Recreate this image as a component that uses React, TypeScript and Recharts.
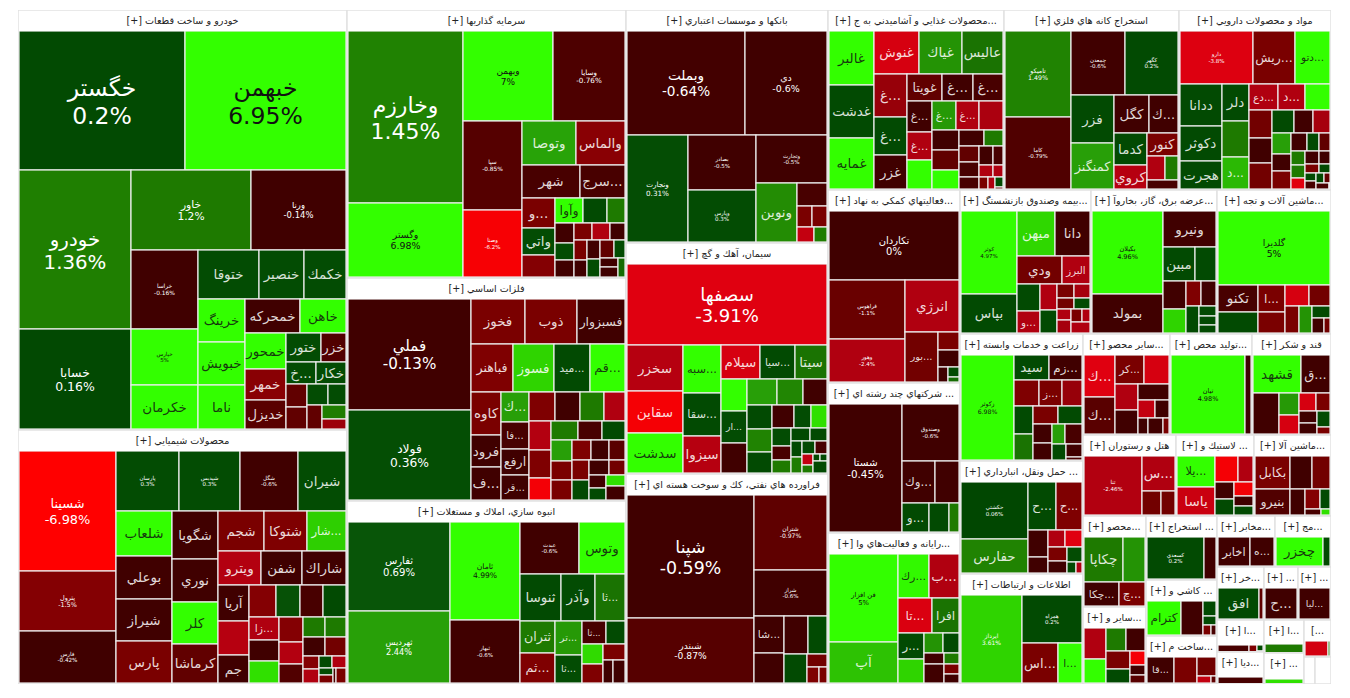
import React from 'react';
import { Treemap } from 'recharts';

const carNames = ['خگستر','خبهمن','خودرو','خسابا','خاور','ورنا','خراسا','خپارس','خكرمان','ختوقا','خنصير','خكمك','خرينگ','خبويش','ناما','خمحركه','خاهن','خمحور','خمهر','خديزل','ختور','خزر','...خ','خكار'];
const carSizes = [22935,22240,17649,11211,9500,7500,5214,3696,2900,2940,2205,2058,2024,2024,1978,1870,1564,1476,1271,1107,1015,725,660,660,484,462,440,374,357,330,132];
const carChanges = [0.2,6.95,1.36,0.16,1.2,-0.14,-0.16,5,5.5,0.3,0.3,0.3,5,5,5,-0.5,5,5,-1.6,-0.9,0.3,-0.8,0.3,0.3,-1,-1,0.3,0.3,-1,1.3,-2];

const chemNames = ['شسينا','پترول','فارس','پارسان','شپديس','شگل','شيران','شلعاب','بوعلي','شيراز','پارس','شگويا','نوري','كلر','كرماشا','شجم','شتوكا','...شار','ويترو','شفن','شاراك','آريا','','جم','','','','','...زا'];
const chemSizes = [11640,5820,5160,3790,3690,3500,2820,2500,2420,2340,2340,2230,1990,1940,1800,1822,1740,1574,1465,1395,1430,1106,1043,917,879,777,743,743,702,641,610,602,526,451,435,414,412,392,209,227,157,170,99,113,52,52];
const chemChanges = [-6.98,-1.5,-0.42,0.3,0.3,-0.6,0.3,5,-0.5,-0.6,-1.3,-0.6,-0.6,5,-1,-1.3,-1.4,3.5,-2.5,-0.6,-0.6,-0.6,-2.6,-0.6,-1.5,0.5,-0.7,0.2,-2.4,-0.6,4,-1.5,-2.5,-0.8,1.2,1.2,-0.6,-1.2,-1.5,-2.4,0.2,-2.4,0.3,-1.3,-0.7,-1.3];

const investNames = ['وخارزم','وگستر','وبهمن','وسايا','سپا','وصنا','وتوصا','والماس','شهر','...سرج','...و','واتي','','وآوا'];
const investSizes = [19800,8490,8100,6480,5250,3954,2380,2152,1900,1480,1000,890,687,705,600,470,384,322,300,300,300,280,260,232,243,220,243,209,170,170,62];
const investChanges = [1.45,6.98,7,-0.76,-0.85,-6.2,2.5,-1.6,-0.7,-0.7,-1.3,0.3,-1.5,5,0.2,1.2,-0.6,0.3,-0.6,-1.3,-2.4,-0.6,-1.3,-0.6,-0.6,0.3,-1,0.3,-0.6,-0.6,1];

const metalNames = ['فملي','فولاد','فخوز','ذوب','فسبزوار','فباهنر','فسوز','...ميد','...قم','كاوه','فرود','...ف','...ك','...فا','ارفع','...قر'];
const metalSizes = [13640,11160,2440,2360,2175,2010,1950,1730,1700,1300,970,940,850,770,720,656,746,715,684,653,629,606,536,506,464,464,444,400,400,377,355,333,340,340,300,250,220,200,200,150];
const metalChanges = [-0.13,0.36,-1.3,-1.3,-0.6,-1.4,3.6,0.2,5,-1.3,-0.6,-0.6,2.4,-0.7,-0.6,-0.6,-1.4,-0.5,1.2,-2.4,-2.5,-1.4,-5.9,1.2,-0.7,0.2,2.4,-1.3,-1.3,-1.4,-0.6,-0.9,-1.3,0.2,-0.6,-1.2,-0.6,0.2,4,-0.6];

const massNames = ['ثفارس','ثهرديس','ثامان','ثبهار','عبدت','وتوس','ثنوسا','وآذر','...ثا','ثتران','...ثم','...تر','...ثا','...ثا'];
const massSizes = [8989,7272,6762,4347,3009,2397,1886,1564,1426,1120,1015,918,756,552,414,420,399,357,231,210];
const massChanges = [0.69,2.44,4.99,-0.6,-0.6,5,0.2,0.3,1.1,1.2,-1.4,2.2,0.3,-0.7,0.2,3.8,-1.4,-1.3,-0.6,-0.6];

const bankNames = ['وبملت','دي','ونجارت','بصادر','وپارس','وتجارت','ونوين'];
const bankSizes = [12154,8343,6420,3685,3484,3384,2400,672,320,300,256,240];
const bankChanges = [-0.64,-0.6,0.31,-0.5,0.3,-0.5,1.8,-0.7,-1.3,-1.3,-3,1.3];

const cementNames = ['سصفها','سخزر','سقاين','سدشت','...سبه','...سقا','سيزوا','سيلام','...سيا','سيتا','','...ار'];
const cementSizes = [15600,2484,2268,2160,1776,1591,1369,1287,1155,1089,810,800,790,754,650,624,575,550,525,480,384,384,323,266,228,234,221,170,165,160,165,117,91,48,40,32];
const cementChanges = [-3.91,-2.6,-6,5,5,0.2,-2.6,-3.6,0.2,1.1,5,0.3,-0.6,2.4,1.6,-0.6,0.2,1.5,0.2,-0.6,0.3,4,0.3,-0.7,1.2,0.2,0.2,0.2,1.3,0.2,-0.7,-3,1.2,0.2,0.2,0.2];

const refineryNames = ['شپنا','شبندر','شتران','شراز','...شا'];
const refinerySizes = [15372,8190,5402,3285,1080,900,890,726,660,260,182,91];
const refineryChanges = [-0.59,-0.87,-0.97,-0.6,-0.6,-0.6,-0.6,0.2,0.2,-1.2,-1.4,-1.3];

const foodNames = ['غالبر','غدشت','غمايه','غنوش','غياك','عاليس','...غ','...غ','غزر','غويتا','...غ','...غ','...غ','...غ','','...غ','...غ'];
const foodSizes = [2332,2288,2200,1845,1763,1640,1344,1184,1120,910,806,780,744,672,650,675,648,621,520,510,468,375,315,300,280,260,255,170,165,121,98,84,80,60];
const foodChanges = [5,0.2,5,-3.6,2,1.1,-1.9,0.2,-0.6,-1,-0.6,-0.7,-0.6,-2.4,5,2.2,-2.4,-2.3,-0.6,-1,5,-0.6,1.2,-1,-0.7,-0.7,-0.6,-0.7,-2.4,-2.4,-1.3,-2.4,0.2,-1];

const miningNames = ['تاميكو','كاما','چمعدن','كگهر','فزر','كمنگنز','كگل','...ك','كدما','كروي','كنور'];
const miningSizes = [5440,4544,3348,3300,1974,1932,1295,1073,1023,759,690,408,312,240];
const miningChanges = [1.49,-0.79,-0.6,0.2,0.2,2.4,-0.6,-0.6,0.2,-2.6,-1.3,-2.4,1.2,-0.7];

const pharmaNames = ['دارو','...ريش','...دتو','ددانا','دكوثر','هجرت','دلر','','...د','...دع','...د'];
const pharmaSizes = [3600,2100,1700,1638,1365,1092,925,900,775,696,648,600,609,546,525,462,399,378,374,306,289,272,208,192,182,169,156,165,143,121,99,77,88,72,56,70,60,28,26];
const pharmaChanges = [-3.8,-1.3,5,0.2,0.2,0.2,0.2,1.2,3,-2.4,-2.4,5,-1.2,-0.6,-1.2,0.2,-0.6,-2.2,2.4,-0.6,-1.3,-0.6,0.2,-1,1.2,1.2,-4,-0.6,-0.6,-1.3,0.2,0.2,-0.7,0.2,-1,-0.7,1.2,-0.7,-1];

const supportNames = ['تكاردان','فراهوس','وهور','انرژي','...بور'];
const supportSizes = [8710,4366,3256,2754,1632,378,357,143,110,20];
const supportChanges = [0,-1.1,-2.4,-2.4,-1.2,-1.3,-0.6,-0.6,0.2,1];

const multiNames = ['شستا','وصندوق','...وك','','...و'];
const multiSizes = [9360,3249,1386,1008,783,570,300];
const multiChanges = [-0.45,-0.6,-0.6,-0.6,0.2,0.2,1.2];

const computerNames = ['فن افزار','آپ','...رك','...ب','...تا','افرا','...ر'];
const computerSizes = [5762,2613,1312,1230,1122,924,648,576,360,306,216,340,153,136,143,44];
const computerChanges = [5,3.2,4.8,-2.4,-3.7,1.1,0.2,3.6,2,0.2,-0.6,-0.6,1.2,-1.3,-0.6,-1.3];

const insuranceNames = ['كوثر','بپاس','ميهن','دانا','ودي','البرز','','...و'];
const insuranceSizes = [4536,2184,1677,1548,1242,783,598,506,425,391,238,224,187,180,153,176,135,112,105];
const insuranceChanges = [4.97,0.2,3.7,-0.6,-1.2,-2.4,0.2,-2.4,-2.4,0.2,-1.3,-2.2,-1.2,0.2,-2.4,-2.2,-1.3,-2.4,-2.4];

const powerNames = ['بكيلان','بمولد','ونيرو','مبين'];
const powerSizes = [5670,2730,1836,1056,660,616,528,360,350,336,162,154,126];
const powerChanges = [4.96,-0.6,-0.6,0.2,0.2,-0.6,3.6,-1.4,-0.6,0.2,0.2,0.2,0.2];

const machineNames = ['گلديرا','تكنو','','...ا'];
const machineSizes = [7810,1036,777,700,525,480,400,364,340,200,170,119];
const machineChanges = [5,-0.7,0.2,-1.3,-1.3,-3.6,-1.2,-1.3,2,0.2,-0.6,-1.2];

const farmNames = ['زكوثر','سيد','...زم','','...ز'];
const farmSizes = [5200,805,759,600,550,525,504,432,425,410,342,288,234,323,204,187,68];
const farmChanges = [6.98,0.2,-0.6,-1.4,-1.3,-1.9,0.2,1.1,-1.3,0.2,-0.6,-0.6,2.4,-0.7,0.2,-0.6,-0.7];

const transportNames = ['حكشتي','حفارس','...ح','...ح'];
const transportSizes = [3770,2210,1334,1196,532,323,289,272,255,240,220,98,84];
const transportChanges = [0.06,1.5,0.2,-1.4,-0.6,-0.6,-2.4,-3.9,-1.3,-0.6,0.3,0.2,-2.4];

const ictNames = ['ايرداز','همراه','...اس','...ا'];
const ictSizes = [5100,2760,1365,897];
const ictChanges = [3.61,0.2,-1.3,5];

const otherNames = ['...ك','...ك','...كر'];
const otherSizes = [1189,1015,754,650,550,506,437,276,228,144,220,96,36];
const otherChanges = [-3.9,-0.9,-1.3,-3.6,-2.4,-0.6,-0.6,-3,-0.6,-0.6,-0.6,-1.3,-0.7];

const productionNames = ['تيان'];
const productionSizes = [5548,456];
const productionChanges = [4.98,-0.6];

const sugarNames = ['قشهد','...ق'];
const sugarSizes = [1680,980,960,399,342,272,224,204,168,187,88,55];
const sugarChanges = [5,-0.6,-0.6,2.2,-3.6,-3.6,-1.3,-0.6,-0.6,0.2,-1.3,-1.3];

const hotelNames = ['تنا','...س'];
const hotelSizes = [3306,1122,432,312];
const hotelChanges = [-2.46,-2.4,-1.2,-1.2];

const rubberNames = ['...يلا','ياسا'];
const rubberSizes = [1110,1036,576,360,304,300,260,190,152];
const rubberChanges = [5,-3.2,-6,-2.4,-0.6,0.2,-5.8,-0.6,0.2];

const machineryNames = ['بكابل','بنيرو'];
const machinerySizes = [1122,850,704,576,364,285,209,90,66];
const machineryChanges = [-1.3,-0.8,-0.6,-1.2,-0.6,-1.5,0.2,-0.7,4];

const drinkNames = ['چكاپا','','...چكا','...چ'];
const drinkSizes = [1702,1012,816,600];
const drinkChanges = [1.2,2,-0.6,-1.3];

const otherBNames: string[] = [];
const otherBSizes = [609,504,418,400,391,299,196,140,70];
const otherBChanges = [-2.4,5,1.2,-0.6,-1.3,0.2,-6,-0.6,-0.9];

const extractNames = ['كسعدي'];
const extractSizes = [2296,492];
const extractChanges = [0.2,-0.6];

const tileNames = ['كترام'];
const tileSizes = [1122,714,182,112,80,40];
const tileChanges = [5,-0.6,0.2,0.2,-1.3,-0.7];

const buildNames = ['...قا'];
const buildSizes = [676,572,342,91,35];
const buildChanges = [-0.6,-1.3,-1.2,-3,-1];

const telecomNames = ['اخابر','...ه'];
const telecomSizes = [899,696];
const telecomChanges = [-0.6,-0.6];

const mixNames = ['چخزر'];
const mixSizes = [1363,203];
const mixChanges = [5,0.2];

const khNames = ['افق'];
const khSizes = [1131,116];
const khChanges = [0.2,-1];

const smallASizes = [270,72,30,24];
const smallAChanges = [-0.7,-1.4,0.2,-0.5];
const smallBSizes = [360,40];
const smallBChanges = [-3.5,1.2];

// labels that also print the percent under the name
const percentNames = new Set(['خگستر','خبهمن','خودرو','خسابا','خاور','ورنا','خراسا','خپارس','شسينا','پترول','فارس','پارسان','شپديس','شگل','وخارزم','وگستر','وبهمن','وسايا','سپا','وصنا','فملي','فولاد','ثفارس','ثهرديس','ثامان','ثبهار','عبدت','وبملت','دي','ونجارت','بصادر','وپارس','وتجارت','سصفها','شپنا','شبندر','شتران','شراز','تاميكو','كاما','چمعدن','كگهر','دارو','تكاردان','فراهوس','وهور','شستا','وصندوق','فن افزار','كوثر','بكيلان','گلديرا','زكوثر','حكشتي','ايرداز','همراه','تيان','تنا','كسعدي']);

const makeLeaves = (names: string[], sizes: number[], changes: number[]) =>
  sizes.map((size, i) => ({ name: names[i] ?? '', size, change: changes[i] }));

const sectors = [
  { name: 'خودرو و ساخت قطعات [+]', size: 137970, leaves: makeLeaves(carNames, carSizes, carChanges) },
  { name: 'محصولات شيميايي [+]', size: 83439, leaves: makeLeaves(chemNames, chemSizes, chemChanges) },
  { name: 'سرمايه گذاريها [+]', size: 74772, leaves: makeLeaves(investNames, investSizes, investChanges) },
  { name: 'فلزات اساسي [+]', size: 62217, leaves: makeLeaves(metalNames, metalSizes, metalChanges) },
  { name: 'انبوه سازي، املاك و مستغلات [+]', size: 51057, leaves: makeLeaves(massNames, massSizes, massChanges) },
  { name: 'بانكها و موسسات اعتباري [+]', size: 47066, leaves: makeLeaves(bankNames, bankSizes, bankChanges) },
  { name: 'سيمان، آهك و گچ [+]', size: 46662, leaves: makeLeaves(cementNames, cementSizes, cementChanges) },
  { name: 'فراورده هاي نفتي، كك و سوخت هسته اي [+]', size: 42420, leaves: makeLeaves(refineryNames, refinerySizes, refineryChanges) },
  { name: '...محصولات غذايي و آشاميدني به ج [+]', size: 31680, leaves: makeLeaves(foodNames, foodSizes, foodChanges) },
  { name: 'استخراج كانه هاي فلزي [+]', size: 31500, leaves: makeLeaves(miningNames, miningSizes, miningChanges) },
  { name: 'مواد و محصولات دارويي [+]', size: 27360, leaves: makeLeaves(pharmaNames, pharmaSizes, pharmaChanges) },
  { name: '...فعاليتهاي كمكي به نهاد [+]', size: 25476, leaves: makeLeaves(supportNames, supportSizes, supportChanges) },
  { name: '... شركتهاي چند رشته اي [+]', size: 19800, leaves: makeLeaves(multiNames, multiSizes, multiChanges) },
  { name: '...رايانه و فعاليت‌هاي وا [+]', size: 19930, leaves: makeLeaves(computerNames, computerSizes, computerChanges) },
  { name: '...بيمه وصندوق بازنشستگ [+]', size: 18900, leaves: makeLeaves(insuranceNames, insuranceSizes, insuranceChanges) },
  { name: '...عرضه برق، گاز، بخاروآ [+]', size: 18150, leaves: makeLeaves(powerNames, powerSizes, powerChanges) },
  { name: '...ماشين آلات و تجه [+]', size: 16146, leaves: makeLeaves(machineNames, machineSizes, machineChanges) },
  { name: 'زراعت و خدمات وابسته [+]', size: 15616, leaves: makeLeaves(farmNames, farmSizes, farmChanges) },
  { name: '... حمل ونقل، انبارداري [+]', size: 13908, leaves: makeLeaves(transportNames, transportSizes, transportChanges) },
  { name: 'اطلاعات و ارتباطات [+]', size: 13298, leaves: makeLeaves(ictNames, ictSizes, ictChanges) },
  { name: '...ساير محصو [+]', size: 8800, leaves: makeLeaves(otherNames, otherSizes, otherChanges) },
  { name: '...توليد محص [+]', size: 8300, leaves: makeLeaves(productionNames, productionSizes, productionChanges) },
  { name: 'قند و شكر [+]', size: 7900, leaves: makeLeaves(sugarNames, sugarSizes, sugarChanges) },
  { name: 'هتل و رستوران [+]', size: 7520, leaves: makeLeaves(hotelNames, hotelSizes, hotelChanges) },
  { name: '... لاستيك و [+]', size: 6320, leaves: makeLeaves(rubberNames, rubberSizes, rubberChanges) },
  { name: '...ماشين آلا [+]', size: 6160, leaves: makeLeaves(machineryNames, machinerySizes, machineryChanges) },
  { name: '...محصو [+]', size: 5704, leaves: makeLeaves(drinkNames, drinkSizes, drinkChanges) },
  { name: '...ساير و [+]', size: 4836, leaves: makeLeaves(otherBNames, otherBSizes, otherBChanges) },
  { name: '... استخراج [+]', size: 4550, leaves: makeLeaves(extractNames, extractSizes, extractChanges) },
  { name: '... كاشي و [+]', size: 3990, leaves: makeLeaves(tileNames, tileSizes, tileChanges) },
  { name: '...ساخت م [+]', size: 3430, leaves: makeLeaves(buildNames, buildSizes, buildChanges) },
  { name: '...مخابر [+]', size: 2950, leaves: makeLeaves(telecomNames, telecomSizes, telecomChanges) },
  { name: '...مج [+]', size: 2900, leaves: makeLeaves(mixNames, mixSizes, mixChanges) },
  { name: '...خر [+]', size: 2500, leaves: makeLeaves(khNames, khSizes, khChanges) },
  { name: '... [+]', size: 1800, leaves: makeLeaves(['...ح'], [100], [-0.6]) },
  { name: '... [+]', size: 1750, leaves: makeLeaves(['...ليا'], [100], [-0.6]) },
  { name: '...ا [+]', size: 1520, leaves: makeLeaves([], smallASizes, smallAChanges) },
  { name: '...ديا [+]', size: 1470, leaves: makeLeaves([], [100], [-0.7]) },
  { name: '...ا [+]', size: 1300, leaves: makeLeaves([], [100], [1.2]) },
  { name: '... [+]', size: 1270, leaves: makeLeaves([], [100], [4]) },
  { name: '...]', size: 1000, leaves: makeLeaves([], smallBSizes, smallBChanges) },
  { name: '', size: 300, leaves: [] },
  { name: '', size: 120, leaves: [] },
];

const FONT = '"DejaVu Sans", sans-serif';
const HEADER_HEIGHT = 20;

const negStops: [number, number[]][] = [[0, [64, 0, 0]], [0.6, [64, 0, 0]], [1.3, [122, 0, 0]], [2.4, [176, 0, 16]], [3.9, [224, 0, 16]], [7, [255, 0, 0]]];
const posStops: [number, number[]][] = [[0, [0, 70, 0]], [0.7, [8, 85, 8]], [1.2, [30, 122, 0]], [2.44, [40, 160, 8]], [3.61, [47, 212, 0]], [5, [51, 255, 0]], [7, [51, 255, 0]]];

const colorFor = (change: number) => {
  const stops = change > 0 ? posStops : negStops;
  const v = Math.abs(change);
  for (let i = 1; i < stops.length; i++) {
    if (v <= stops[i][0]) {
      const [a, ca] = stops[i - 1];
      const [b, cb] = stops[i];
      const t = (v - a) / (b - a);
      return `rgb(${ca.map((c, k) => Math.round(c + (cb[k] - c) * t)).join(',')})`;
    }
  }
  return `rgb(${stops[stops.length - 1][1].join(',')})`;
};

const renderLeaf = (props: any) => {
  const { depth, x, y, width, height, name, change } = props;
  if (depth !== 1 || width <= 0 || height <= 0) return null;
  const cx = x + width / 2;
  const cy = y + height / 2;
  const ink = change >= 3.8 ? '#111' : '#fff';
  const area = width * height;
  let label = null;
  if (name && percentNames.has(name)) {
    const size = Math.min(23.5, Math.max(5.5, area / 900));
    label = (
      <text textAnchor="middle" fill={ink} fontFamily={FONT} fontSize={size}>
        <tspan x={cx} y={cy - size * 0.2} direction="rtl">{name}</tspan>
        <tspan x={cx} y={cy + size * 0.98} style={{ direction: 'ltr', unicodeBidi: 'isolate' }}>{`${change}%`}</tspan>
      </text>
    );
  } else if (name && height >= 16) {
    const size = Math.min(13.5, (1.8 * width) / name.length);
    label = (
      <text x={cx} y={cy + size * 0.35} textAnchor="middle" fill={ink} fillOpacity={0.85} fontFamily={FONT} fontSize={size} style={{ direction: 'rtl' }}>
        {name}
      </text>
    );
  }
  return (
    <g>
      <rect x={x} y={y} width={width} height={height} fill={colorFor(change)} stroke="#eeeeee" strokeWidth={1.2} />
      {label}
    </g>
  );
};

const renderSector = (props: any) => {
  const { depth, x, y, width, height, name, leaves } = props;
  if (depth !== 1) return null;
  const bodyHeight = height - HEADER_HEIGHT - 2;
  return (
    <g>
      <rect x={x} y={y} width={width} height={height} fill="#fff" stroke="#e2e2e2" strokeWidth={1.5} />
      <foreignObject x={x + 1} y={y + 1} width={width - 2} height={height - 2}>
        <div
          dir="rtl"
          style={{
            height: HEADER_HEIGHT,
            lineHeight: `${HEADER_HEIGHT}px`,
            fontFamily: FONT,
            fontSize: 9.6,
            color: '#222',
            textAlign: 'center',
            whiteSpace: 'nowrap',
            overflow: 'hidden',
            background: '#fff',
          }}
        >
          {name}
        </div>
        {bodyHeight > 0 && leaves.length > 0 && (
          <Treemap
            width={width - 2}
            height={bodyHeight}
            data={leaves}
            dataKey="size"
            aspectRatio={1}
            isAnimationActive={false}
            content={renderLeaf}
          />
        )}
      </foreignObject>
    </g>
  );
};

export default function App() {
  return (
    <div style={{ marginLeft: 10, marginTop: 2, width: 1313, height: 674 }}>
      <Treemap
        width={1313}
        height={674}
        data={sectors}
        dataKey="size"
        aspectRatio={1}
        isAnimationActive={false}
        content={renderSector}
      />
    </div>
  );
}
